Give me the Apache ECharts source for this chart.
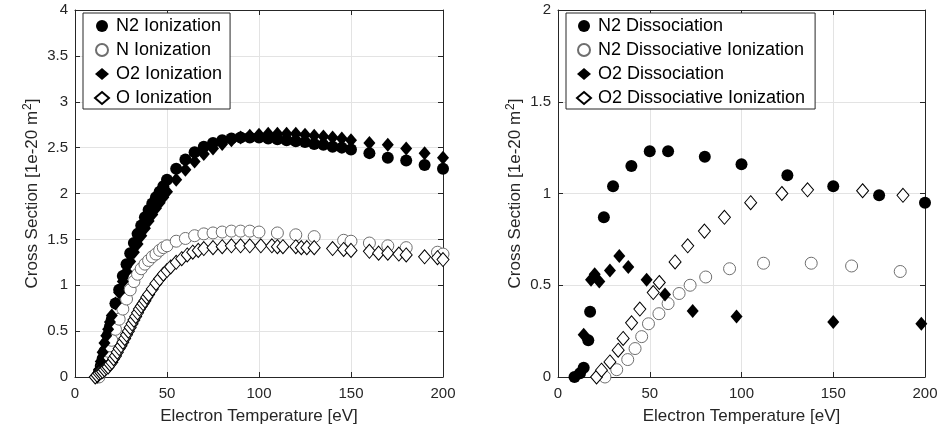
<!DOCTYPE html>
<html><head><meta charset="utf-8">
<script src="https://cdn.jsdelivr.net/npm/echarts@6/dist/echarts.min.js"></script>
<style>html,body{margin:0;padding:0;background:#fff}#c{width:943px;height:438px}</style>
</head><body><div id="c"></div>
<script>
// ---------- Left panel: ionization ----------
const n2IonX = [12,13,14,15,16,17,18,19,20,22,24,26,28,30,32,34,36,38,40,42,44,46,48,50,55,60,65,70,75,80,85,90,95,100,105,110,115,120,125,130,135,140,145,150,160,170,180,190,200];
const n2IonY = [0,0.05,0.12,0.2,0.28,0.37,0.46,0.55,0.63,0.8,0.95,1.1,1.23,1.35,1.46,1.56,1.65,1.74,1.82,1.89,1.96,2.02,2.08,2.15,2.27,2.37,2.45,2.51,2.55,2.58,2.6,2.61,2.61,2.61,2.6,2.59,2.58,2.57,2.56,2.54,2.53,2.51,2.5,2.48,2.44,2.39,2.36,2.31,2.27];
const nIonX = [13,14,15,16,17,18,19,20,22,24,26,28,30,32,34,36,38,40,42,44,46,48,50,55,60,65,70,75,80,85,90,95,100,110,120,130,146,150,160,170,180,197,200];
const nIonY = [0,0.05,0.1,0.16,0.22,0.28,0.34,0.4,0.52,0.63,0.74,0.85,0.95,1.04,1.12,1.18,1.23,1.27,1.31,1.34,1.38,1.41,1.43,1.48,1.51,1.54,1.56,1.57,1.58,1.59,1.59,1.59,1.58,1.57,1.55,1.53,1.49,1.48,1.46,1.43,1.41,1.36,1.34];
const o2IonX = [12,13,14,15,16,17,18,19,20,22,24,26,28,30,32,34,36,38,40,42,44,46,48,50,55,60,65,70,75,80,85,90,95,100,105,110,115,120,125,130,135,140,145,150,160,170,180,190,200];
const o2IonY = [0,0.08,0.17,0.27,0.37,0.45,0.52,0.6,0.67,0.8,0.92,1.04,1.15,1.26,1.36,1.45,1.54,1.62,1.7,1.77,1.84,1.9,1.96,2.02,2.15,2.26,2.35,2.43,2.49,2.54,2.58,2.61,2.63,2.64,2.65,2.65,2.65,2.65,2.64,2.63,2.62,2.61,2.6,2.58,2.55,2.53,2.49,2.44,2.39];
const oIonX = [11,12,13,14,15,16,17,18,19,20,21,22,23,24,25,26,27,28,29,30,31,32,33,34,35,36,37,38,39,40,42,44,46,48,50,52,55,58,61,64,67,70,75,80,85,90,95,101,107,110,113,120,123,126,130,140,146,150,160,165,170,176,180,190,197,200];
const oIonY = [0,0.02,0.04,0.05,0.06,0.08,0.1,0.11,0.14,0.16,0.2,0.23,0.27,0.31,0.34,0.38,0.42,0.46,0.5,0.54,0.58,0.62,0.66,0.7,0.74,0.77,0.8,0.83,0.87,0.9,0.96,1.02,1.07,1.12,1.16,1.2,1.25,1.29,1.33,1.36,1.38,1.4,1.41,1.42,1.43,1.43,1.43,1.43,1.43,1.42,1.42,1.42,1.41,1.41,1.41,1.4,1.39,1.38,1.37,1.35,1.35,1.34,1.33,1.31,1.3,1.28];

// ---------- Right panel: dissociation ----------
const n2DisX = [9,12,14,16.5,17.5,25,30,40,50,60,80,100,125,150,175,200];
const n2DisY = [0,0.02,0.05,0.2,0.355,0.87,1.04,1.15,1.23,1.23,1.2,1.16,1.1,1.04,0.99,0.95];
const n2DisIonX = [25.6,32,38,42,45.6,49.3,55,60,66,72,80.5,93.5,112,138,160,186.5];
const n2DisIonY = [0,0.04,0.095,0.155,0.22,0.29,0.345,0.4,0.455,0.5,0.545,0.59,0.62,0.62,0.605,0.575];
const o2DisX = [14,18,20,22.5,28.3,33.4,38.3,48.3,58.3,73.4,97.3,150,198];
const o2DisY = [0.23,0.53,0.56,0.52,0.58,0.66,0.6,0.53,0.45,0.36,0.33,0.3,0.29];
const o2DisIonX = [21,23.7,28.3,32.8,35.5,40.1,44.6,51.9,55.2,63.8,70.7,79.8,90.7,105,122,136,166,188];
const o2DisIonY = [0,0.037,0.082,0.146,0.21,0.295,0.37,0.46,0.515,0.627,0.715,0.795,0.87,0.95,1.0,1.02,1.015,0.99];

const xTicks = {min:0, max:200, interval:50};
const leftY = {min:0, max:4, interval:0.5};
const rightY = {min:0, max:2, interval:0.5};

const FONT = 'Liberation Sans, Arial, Helvetica, sans-serif';
const AX = '#262626';
const zip = (xs, ys) => xs.map((x,i)=>[x, ys[i]]);

const chart = echarts.init(document.getElementById('c'), null, {renderer:'canvas'});

function mkX(grid, pos, main){
  return {type:'value', gridIndex:grid, position:pos, min:xTicks.min, max:xTicks.max, interval:xTicks.interval,
    axisLine:{show:true, onZero:false, lineStyle:{color:AX, width:1}},
    axisTick:{show:true, inside:true, length:5, lineStyle:{color:AX}},
    axisLabel:{show:main, fontSize:15, color:AX, fontFamily:FONT, margin:9},
    splitLine:{show:main, lineStyle:{color:'#e3e3e3', width:1}},
    name: main ? 'Electron Temperature [eV]' : '', nameLocation:'middle', nameGap:31,
    nameTextStyle:{fontSize:17, color:AX, fontFamily:FONT}};
}
function mkY(grid, pos, main, rng){
  return {type:'value', gridIndex:grid, position:pos, min:rng.min, max:rng.max, interval:rng.interval,
    axisLine:{show:true, onZero:false, lineStyle:{color:AX, width:1}},
    axisTick:{show:true, inside:true, length:5, lineStyle:{color:AX}},
    axisLabel:{show:main, fontSize:15, color:AX, fontFamily:FONT, margin:7},
    splitLine:{show:main, lineStyle:{color:'#e3e3e3', width:1}},
    name: main ? '{a|Cross Section [1e-20 m}{s|2}{a|]}' : '', nameLocation:'middle', nameGap:32,
    nameTextStyle:{color:AX, fontFamily:FONT, rich:{a:{fontSize:17, color:AX, fontFamily:FONT}, s:{fontSize:12, color:AX, fontFamily:FONT, padding:[0,0,9,1]}}}};
}

const filledCircle = {symbol:'circle', symbolSize:12, itemStyle:{color:'#000', borderColor:'#000', borderWidth:0, opacity:1}};
const openCircle = {symbol:'circle', symbolSize:12, itemStyle:{color:'#fff', borderColor:'#6e6e6e', borderWidth:1, opacity:1}};
const filledDiamond = {symbol:'diamond', symbolSize:[12,14], itemStyle:{color:'#000', borderColor:'#000', borderWidth:0, opacity:1}};
const openDiamond = {symbol:'diamond', symbolSize:[12,14], itemStyle:{color:'#fff', borderColor:'#000', borderWidth:1, opacity:1}};

function sc(name, xi, yi, data, style){
  return Object.assign({type:'scatter', name, xAxisIndex:xi, yAxisIndex:yi, data, animation:false, emphasis:{disabled:true}}, JSON.parse(JSON.stringify(style)));
}

function legendBase(padLeft, padRight){
  return {orient:'vertical', backgroundColor:'#fff', borderColor:AX, borderWidth:1, borderRadius:0,
    itemWidth:14, itemHeight:12, itemGap:6, padding:[4,padRight,2,padLeft],
    textStyle:{fontSize:18, lineHeight:18, color:'#000', fontFamily:FONT, padding:[0,0,0,2]}};
}

chart.setOption({
  animation:false,
  grid:[
    {left:75, right:500, top:10, bottom:61, show:false},
    {left:558, right:18, top:10, bottom:61, show:false}
  ],
  xAxis:[mkX(0,'bottom',true), mkX(0,'top',false), mkX(1,'bottom',true), mkX(1,'top',false)],
  yAxis:[mkY(0,'left',true,leftY), mkY(0,'right',false,leftY), mkY(1,'left',true,rightY), mkY(1,'right',false,rightY)],
  legend:[
    Object.assign({left:83, top:13, data:['N2 Ionization','N Ionization','O2 Ionization','O Ionization']}, legendBase(11,8)),
    Object.assign({left:566, top:13, data:['N2 Dissociation','N2 Dissociative Ionization','O2 Dissociation','O2 Dissociative Ionization']}, legendBase(10,10))
  ],
  series:[
    sc('N2 Ionization',0,0,zip(n2IonX,n2IonY),filledCircle),
    sc('N Ionization',0,0,zip(nIonX,nIonY),openCircle),
    sc('O2 Ionization',0,0,zip(o2IonX,o2IonY),filledDiamond),
    sc('O Ionization',0,0,zip(oIonX,oIonY),openDiamond),
    sc('N2 Dissociation',2,2,zip(n2DisX,n2DisY),filledCircle),
    sc('N2 Dissociative Ionization',2,2,zip(n2DisIonX,n2DisIonY),openCircle),
    sc('O2 Dissociation',2,2,zip(o2DisX,o2DisY),filledDiamond),
    sc('O2 Dissociative Ionization',2,2,zip(o2DisIonX,o2DisIonY),openDiamond)
  ]
});
</script></body></html>
